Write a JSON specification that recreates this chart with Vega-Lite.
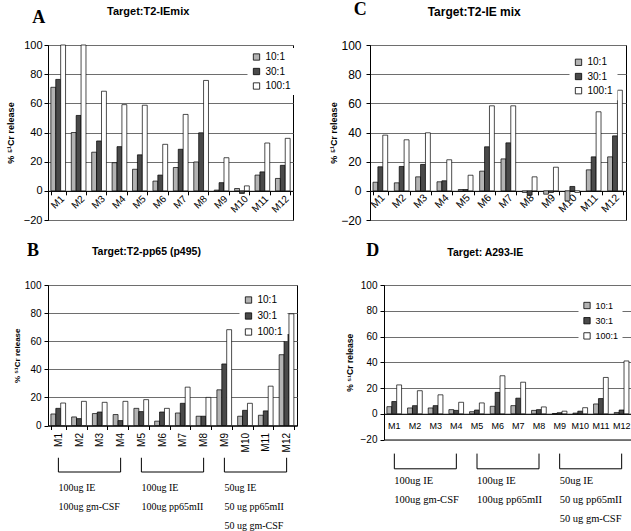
{
  "$schema": "https://vega.github.io/schema/vega-lite/v6.json",
  "background": "white",
  "padding": {"left": 5, "top": 0, "right": 0, "bottom": 0},
  "datasets": {
    "A": [
      {"m":"M1","10:1":71,"30:1":76.4,"100:1":100},
      {"m":"M2","10:1":40,"30:1":51.7,"100:1":100},
      {"m":"M3","10:1":26.5,"30:1":34.2,"100:1":68.3},
      {"m":"M4","10:1":19.3,"30:1":30.3,"100:1":59.1},
      {"m":"M5","10:1":14.8,"30:1":24.7,"100:1":58.7},
      {"m":"M6","10:1":6.7,"30:1":10.8,"100:1":31.9},
      {"m":"M7","10:1":16,"30:1":28.5,"100:1":52.4},
      {"m":"M8","10:1":19.8,"30:1":39.8,"100:1":75.7},
      {"m":"M9","10:1":0.5,"30:1":5.6,"100:1":22.7},
      {"m":"M10","10:1":1.6,"30:1":-1.8,"100:1":3.4},
      {"m":"M11","10:1":10.8,"30:1":13,"100:1":32.8},
      {"m":"M12","10:1":8.5,"30:1":17.5,"100:1":36}
    ],
    "C": [
      {"m":"M1","10:1":5.9,"30:1":16.5,"100:1":38.2},
      {"m":"M2","10:1":5.5,"30:1":16.7,"100:1":35},
      {"m":"M3","10:1":9.6,"30:1":18.1,"100:1":39.8},
      {"m":"M4","10:1":6.2,"30:1":6.9,"100:1":21.3},
      {"m":"M5","10:1":0.9,"30:1":0.9,"100:1":10.7},
      {"m":"M6","10:1":13.5,"30:1":30.2,"100:1":58.3},
      {"m":"M7","10:1":21.9,"30:1":32.9,"100:1":58.3},
      {"m":"M8","10:1":-1.1,"30:1":-3,"100:1":9.6},
      {"m":"M9","10:1":-2.3,"30:1":-1.1,"100:1":16.2},
      {"m":"M10","10:1":-6.9,"30:1":3,"100:1":-1.1},
      {"m":"M11","10:1":14.4,"30:1":23.3,"100:1":54.2},
      {"m":"M12","10:1":23.3,"30:1":37.7,"100:1":69}
    ],
    "B": [
      {"m":"M1","10:1":8.2,"30:1":12.2,"100:1":16},
      {"m":"M2","10:1":6.1,"30:1":4.9,"100:1":17.2},
      {"m":"M3","10:1":8.5,"30:1":9.6,"100:1":16.5},
      {"m":"M4","10:1":7.8,"30:1":3.5,"100:1":17.2},
      {"m":"M5","10:1":12.2,"30:1":9.9,"100:1":18.4},
      {"m":"M6","10:1":3.1,"30:1":9.6,"100:1":12.2},
      {"m":"M7","10:1":8.9,"30:1":15.8,"100:1":27.3},
      {"m":"M8","10:1":6.6,"30:1":6.6,"100:1":20},
      {"m":"M9","10:1":25.4,"30:1":43.8,"100:1":68.2},
      {"m":"M10","10:1":6.6,"30:1":10.8,"100:1":15.8},
      {"m":"M11","10:1":7.3,"30:1":10.4,"100:1":28},
      {"m":"M12","10:1":50.4,"30:1":64.7,"100:1":79.5}
    ],
    "D": [
      {"m":"M1","10:1":5.5,"30:1":9.5,"100:1":22.4},
      {"m":"M2","10:1":4.5,"30:1":6.3,"100:1":17.9},
      {"m":"M3","10:1":4.5,"30:1":6.3,"100:1":14.7},
      {"m":"M4","10:1":3.2,"30:1":2.6,"100:1":8.9},
      {"m":"M5","10:1":1.6,"30:1":2.9,"100:1":8.4},
      {"m":"M6","10:1":5.8,"30:1":16.6,"100:1":29.5},
      {"m":"M7","10:1":6.3,"30:1":12.1,"100:1":24.5},
      {"m":"M8","10:1":2.6,"30:1":3.2,"100:1":5.3},
      {"m":"M9","10:1":0.2,"30:1":0.8,"100:1":2},
      {"m":"M10","10:1":0.5,"30:1":2,"100:1":4.7},
      {"m":"M11","10:1":7.6,"30:1":11.8,"100:1":28.2},
      {"m":"M12","10:1":1,"30:1":2.9,"100:1":41}
    ],
    "brackets": [
      {"start":"M1","end":"M4"},
      {"start":"M5","end":"M8"},
      {"start":"M9","end":"M12"}
    ],
    "notes": [
      {"first":"M1","line":1,"text":"100ug IE"},
      {"first":"M1","line":2,"text":"100ug gm-CSF"},
      {"first":"M5","line":1,"text":"100ug IE"},
      {"first":"M5","line":2,"text":"100ug pp65mII"},
      {"first":"M9","line":1,"text":"50ug IE"},
      {"first":"M9","line":2,"text":"50 ug pp65mII"},
      {"first":"M9","line":3,"text":"50 ug gm-CSF"}
    ]
  },
  "vconcat": [
    {
      "hconcat": [
        {
          "width": 245, "height": 175,
          "layer": [
            {
              "data": {"name": "A"},
              "transform": [{"fold": ["10:1","30:1","100:1"], "as": ["ratio","v"]}],
              "mark": {"type": "bar", "stroke": "black", "strokeWidth": 0.7},
              "encoding": {
                "x": {"field": "m", "type": "nominal",
                  "scale": {"domain": ["M1","M2","M3","M4","M5","M6","M7","M8","M9","M10","M11","M12"], "paddingInner": 0.28, "paddingOuter": 0.14},
                  "axis": {"title": null, "offset": -29.17, "labelAngle": -45, "labelAlign": "right", "labelBaseline": "middle", "labelFontSize": 10, "labelPadding": 2, "labelOffset": 4, "tickBand": "extent", "tickSize": 4, "labelOverlap": false, "grid": false}},
                "xOffset": {"field": "ratio", "type": "nominal", "scale": {"domain": ["10:1","30:1","100:1"]}},
                "y": {"field": "v", "type": "quantitative",
                  "scale": {"domain": [-20, 100], "nice": false},
                  "axis": {"values": [-20,0,20,40,60,80,100], "tickCount": 12, "labelOverlap": false, "title": "% ⁵¹Cr release", "titleFontSize": 9, "titleFontWeight": "bold", "titlePadding": 8, "labelFontSize": 11, "labelPadding": 2, "tickSize": 4}},
                "fill": {"field": "ratio", "type": "nominal",
                  "scale": {"domain": ["10:1","30:1","100:1"], "range": ["#b3b3b3","#4a4a4a","#ffffff"]},
                  "legend": {"title": null, "orient": "none", "legendX": 199.5, "legendY": 3, "labelFontSize": 10, "rowPadding": 4.5}}
              }
            },
            {
              "data": {"values": [{"t": "A"}]},
              "mark": {"type": "text", "font": "Liberation Serif", "fontSize": 18, "fontWeight": "bold", "align": "left", "baseline": "alphabetic", "dx": -26},
              "encoding": {"x": {"datum": "M1"}, "y": {"datum": 115.1}, "text": {"field": "t"}}
            },
            {
              "data": {"values": [{"t": "Target:T2-IEmix"}]},
              "mark": {"type": "text", "font": "Liberation Sans", "fontSize": 11, "fontWeight": "bold", "align": "left", "baseline": "alphabetic", "dx": 48.8},
              "encoding": {"x": {"datum": "M1"}, "y": {"datum": 120.6}, "text": {"field": "t"}}
            }
          ]
        },
        {
          "width": 256, "height": 175,
          "layer": [
            {
              "data": {"name": "C"},
              "transform": [{"fold": ["10:1","30:1","100:1"], "as": ["ratio","v"]}],
              "mark": {"type": "bar", "stroke": "black", "strokeWidth": 0.7},
              "encoding": {
                "x": {"field": "m", "type": "nominal",
                  "scale": {"domain": ["M1","M2","M3","M4","M5","M6","M7","M8","M9","M10","M11","M12"], "paddingInner": 0.28, "paddingOuter": 0.14},
                  "axis": {"title": null, "offset": -29.17, "labelAngle": -45, "labelAlign": "right", "labelBaseline": "middle", "labelFontSize": 10.5, "labelPadding": 1, "labelOffset": 2, "tickBand": "extent", "tickSize": 4, "labelOverlap": false, "grid": false}},
                "xOffset": {"field": "ratio", "type": "nominal", "scale": {"domain": ["10:1","30:1","100:1"]}},
                "y": {"field": "v", "type": "quantitative",
                  "scale": {"domain": [-20, 100], "nice": false},
                  "axis": {"values": [-20,0,20,40,60,80,100], "tickCount": 12, "labelOverlap": false, "title": "% ⁵¹Cr release", "titleFontSize": 9, "titleFontWeight": "bold", "titlePadding": 2, "labelFontSize": 12, "labelPadding": 5, "tickSize": 4}},
                "fill": {"field": "ratio", "type": "nominal",
                  "scale": {"domain": ["10:1","30:1","100:1"], "range": ["#b3b3b3","#4a4a4a","#ffffff"]},
                  "legend": {"title": null, "orient": "none", "legendX": 199.5, "legendY": 8.3, "labelFontSize": 10, "rowPadding": 4.2}}
              }
            },
            {
              "data": {"values": [{"t": "C"}]},
              "mark": {"type": "text", "font": "Liberation Serif", "fontSize": 18, "fontWeight": "bold", "align": "left", "baseline": "alphabetic", "dx": -27},
              "encoding": {"x": {"datum": "M1"}, "y": {"datum": 120.6}, "text": {"field": "t"}}
            },
            {
              "data": {"values": [{"t": "Target:T2-IE mix"}]},
              "mark": {"type": "text", "font": "Liberation Sans", "fontSize": 12, "fontWeight": "bold", "align": "left", "baseline": "alphabetic", "dx": 47},
              "encoding": {"x": {"datum": "M1"}, "y": {"datum": 120.1}, "text": {"field": "t"}}
            }
          ]
        }
      ],
      "spacing": 33,
      "resolve": {"scale": {"x": "independent", "y": "independent", "fill": "independent"}, "legend": {"fill": "independent"}}
    },
    {
      "hconcat": [
        {
          "vconcat": [
            {
              "width": 249, "height": 140.5,
              "layer": [
                {
                  "data": {"name": "B"},
                  "transform": [{"fold": ["10:1","30:1","100:1"], "as": ["ratio","v"]}],
                  "mark": {"type": "bar", "stroke": "black", "strokeWidth": 0.7},
                  "encoding": {
                    "x": {"field": "m", "type": "nominal",
                      "scale": {"domain": ["M1","M2","M3","M4","M5","M6","M7","M8","M9","M10","M11","M12"], "paddingInner": 0.28, "paddingOuter": 0.14},
                      "axis": {"title": null, "labelAngle": -90, "labelAlign": "right", "labelBaseline": "middle", "labelFontSize": 10, "labelPadding": 3, "tickBand": "extent", "tickSize": 4, "labelOverlap": false, "grid": false}},
                    "xOffset": {"field": "ratio", "type": "nominal", "scale": {"domain": ["10:1","30:1","100:1"]}},
                    "y": {"field": "v", "type": "quantitative",
                      "scale": {"domain": [0, 100], "nice": false},
                      "axis": {"values": [0,20,40,60,80,100], "tickCount": 12, "labelOverlap": false, "title": "% ⁵¹Cr release", "titleFontSize": 8, "titleFontWeight": "bold", "titlePadding": 3, "labelFontSize": 10, "labelPadding": 3, "tickSize": 4}},
                    "fill": {"field": "ratio", "type": "nominal",
                      "scale": {"domain": ["10:1","30:1","100:1"], "range": ["#b3b3b3","#4a4a4a","#ffffff"]},
                      "legend": {"title": null, "orient": "none", "legendX": 191.5, "legendY": 6, "labelFontSize": 10, "rowPadding": 6}}
                  }
                },
                {
                  "data": {"values": [{"t": "B"}]},
                  "mark": {"type": "text", "font": "Liberation Serif", "fontSize": 18, "fontWeight": "bold", "align": "left", "baseline": "alphabetic", "dx": -31.5},
                  "encoding": {"x": {"datum": "M1"}, "y": {"datum": 120.3}, "text": {"field": "t"}}
                },
                {
                  "data": {"values": [{"t": "Target:T2-pp65 (p495)"}]},
                  "mark": {"type": "text", "font": "Liberation Sans", "fontSize": 10.5, "fontWeight": "bold", "align": "left", "baseline": "alphabetic", "dx": 33.6},
                  "encoding": {"x": {"datum": "M1"}, "y": {"datum": 121.7}, "text": {"field": "t"}}
                }
              ]
            },
            {
              "width": 249, "height": 76,
              "view": {"stroke": null},
              "layer": [
                {
                  "data": {"name": "brackets"},
                  "mark": {"type": "rule", "color": "black", "strokeWidth": 1},
                  "encoding": {
                    "x": {"field": "start", "type": "nominal", "scale": {"type": "point", "domain": ["M1","M2","M3","M4","M5","M6","M7","M8","M9","M10","M11","M12"], "padding": 0.5}, "axis": null},
                    "x2": {"field": "end"},
                    "y": {"datum": 0, "type": "quantitative", "scale": {"domain": [-1, 3], "reverse": true, "nice": false}, "axis": null}
                  }
                },
                {
                  "data": {"name": "brackets"},
                  "transform": [{"fold": ["start","end"], "as": ["side","mm"]}],
                  "mark": {"type": "rule", "color": "black", "strokeWidth": 1},
                  "encoding": {
                    "x": {"field": "mm", "type": "nominal"},
                    "y": {"datum": -0.75, "type": "quantitative"},
                    "y2": {"datum": 0}
                  }
                },
                {
                  "data": {"name": "notes"},
                  "mark": {"type": "text", "align": "left", "baseline": "alphabetic", "font": "Liberation Serif", "fontSize": 10, "color": "black"},
                  "encoding": {
                    "x": {"field": "first", "type": "nominal"},
                    "y": {"field": "line", "type": "quantitative"},
                    "text": {"field": "text"}
                  }
                }
              ]
            }
          ],
          "spacing": -2
        },
        {
          "vconcat": [
            {
              "width": 248, "height": 154.5,
              "layer": [
                {
                  "data": {"name": "D"},
                  "transform": [{"fold": ["10:1","30:1","100:1"], "as": ["ratio","v"]}],
                  "mark": {"type": "bar", "stroke": "black", "strokeWidth": 0.7},
                  "encoding": {
                    "x": {"field": "m", "type": "nominal",
                      "scale": {"domain": ["M1","M2","M3","M4","M5","M6","M7","M8","M9","M10","M11","M12"], "paddingInner": 0.28, "paddingOuter": 0.14},
                      "axis": {"title": null, "offset": -25.75, "labelAngle": 0, "labelAlign": "center", "labelFontSize": 9, "labelPadding": 8, "ticks": false, "tickSize": 0, "labelOverlap": false, "grid": false}},
                    "xOffset": {"field": "ratio", "type": "nominal", "scale": {"domain": ["10:1","30:1","100:1"]}},
                    "y": {"field": "v", "type": "quantitative",
                      "scale": {"domain": [-20, 100], "nice": false},
                      "axis": {"values": [-20,0,20,40,60,80,100], "tickCount": 12, "labelOverlap": false, "title": "% ⁵¹Cr release", "titleFontSize": 8.5, "titleFontWeight": "bold", "titlePadding": 6, "labelFontSize": 10, "labelPadding": 3, "tickSize": 4}},
                    "fill": {"field": "ratio", "type": "nominal",
                      "scale": {"domain": ["10:1","30:1","100:1"], "range": ["#b3b3b3","#4a4a4a","#ffffff"]},
                      "legend": {"title": null, "orient": "none", "legendX": 194.5, "legendY": 12, "labelFontSize": 9, "rowPadding": 4.2}}
                  }
                },
                {
                  "data": {"values": [{"t": "D"}]},
                  "mark": {"type": "text", "font": "Liberation Serif", "fontSize": 18, "fontWeight": "bold", "align": "left", "baseline": "alphabetic", "dx": -28},
                  "encoding": {"x": {"datum": "M1"}, "y": {"datum": 122.9}, "text": {"field": "t"}}
                },
                {
                  "data": {"values": [{"t": "Target: A293-IE"}]},
                  "mark": {"type": "text", "font": "Liberation Sans", "fontSize": 10.5, "fontWeight": "bold", "align": "left", "baseline": "alphabetic", "dx": 53},
                  "encoding": {"x": {"datum": "M1"}, "y": {"datum": 122.4}, "text": {"field": "t"}}
                }
              ]
            },
            {
              "width": 248, "height": 76,
              "view": {"stroke": null},
              "layer": [
                {
                  "data": {"name": "brackets"},
                  "mark": {"type": "rule", "color": "black", "strokeWidth": 1},
                  "encoding": {
                    "x": {"field": "start", "type": "nominal", "scale": {"type": "point", "domain": ["M1","M2","M3","M4","M5","M6","M7","M8","M9","M10","M11","M12"], "padding": 0.5}, "axis": null},
                    "x2": {"field": "end"},
                    "y": {"datum": 0.2, "type": "quantitative", "scale": {"domain": [-1, 3], "reverse": true, "nice": false}, "axis": null}
                  }
                },
                {
                  "data": {"name": "brackets"},
                  "transform": [{"fold": ["start","end"], "as": ["side","mm"]}],
                  "mark": {"type": "rule", "color": "black", "strokeWidth": 1},
                  "encoding": {
                    "x": {"field": "mm", "type": "nominal"},
                    "y": {"datum": -0.6, "type": "quantitative"},
                    "y2": {"datum": 0.2}
                  }
                },
                {
                  "data": {"name": "notes"},
                  "mark": {"type": "text", "align": "left", "baseline": "alphabetic", "font": "Liberation Serif", "fontSize": 10.5, "color": "black"},
                  "encoding": {
                    "x": {"field": "first", "type": "nominal"},
                    "y": {"field": "line", "type": "quantitative"},
                    "text": {"field": "text"}
                  }
                }
              ]
            }
          ],
          "spacing": 1
        }
      ],
      "spacing": 46,
      "resolve": {"scale": {"x": "independent", "y": "independent", "fill": "independent"}, "legend": {"fill": "independent"}}
    }
  ],
  "spacing": 14,
  "resolve": {"scale": {"x": "independent", "y": "independent", "fill": "independent"}, "legend": {"fill": "independent"}},
  "config": {
    "view": {"stroke": "black", "strokeWidth": 1},
    "font": "Liberation Sans",
    "axis": {"labelColor": "black", "titleColor": "black", "domainColor": "black", "tickColor": "black", "labelFont": "Liberation Sans", "titleFont": "Liberation Sans", "gridColor": "#6e6e6e", "gridOpacity": 1, "domainWidth": 1, "tickWidth": 1},
    "legend": {"symbolType": "square", "symbolSize": 40, "symbolStrokeColor": "black", "symbolStrokeWidth": 0.8, "fillColor": "white", "padding": 4, "labelFont": "Liberation Sans", "labelColor": "black", "labelOffset": 4}
  }
}
